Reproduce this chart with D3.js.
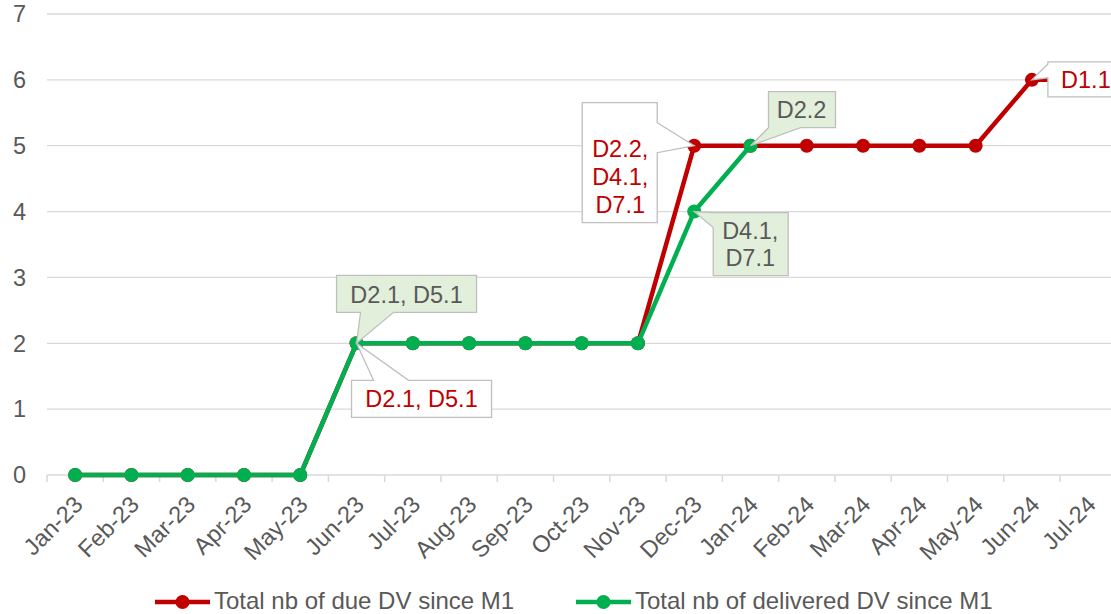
<!DOCTYPE html>
<html>
<script src="https://d3js.org/d3.v7.min.js"></script>
<style>
  body { margin: 0; background: #fff; }
  text { font-family: "Liberation Sans", Arial, sans-serif; }
</style>
<body>
<div id="chart"></div>

<script>
    // chart data
    var months = ["Jan-23", "Feb-23", "Mar-23", "Apr-23", "May-23", "Jun-23", "Jul-23", "Aug-23", "Sep-23",
                  "Oct-23", "Nov-23", "Dec-23", "Jan-24", "Feb-24", "Mar-24", "Apr-24", "May-24", "Jun-24", "Jul-24"];
    var due = [0, 0, 0, 0, 0, 2, 2, 2, 2, 2, 2, 5, 5, 5, 5, 5, 5, 6, 6];
    var delivered = [0, 0, 0, 0, 0, 2, 2, 2, 2, 2, 2, 4, 5];
    var yTicks = [0, 1, 2, 3, 4, 5, 6, 7];
    var seriesNames = ["Total nb of due DV since M1", "Total nb of delivered DV since M1"];
    var dueLabels = [
        { month: "Jun-23", lines: ["D2.1, D5.1"] },
        { month: "Dec-23", lines: ["D2.2,", "D4.1,", "D7.1"] },
        { month: "Jun-24", lines: ["D1.1"] }
    ];
    var deliveredLabels = [
        { month: "Jun-23", lines: ["D2.1, D5.1"] },
        { month: "Dec-23", lines: ["D4.1,", "D7.1"] },
        { month: "Jan-24", lines: ["D2.2"] }
    ];

    var W = 1111, H = 614;
    var red = "#c00000", green = "#00b050", grey = "#595959", gridCol = "#d9d9d9";
    var fs = 23.5;

    var svg = d3.select("#chart").append("svg")
        .attr("width", W).attr("height", H);

    var x = d3.scaleBand().domain(months).range([47, 47 + 19 * 56.28]);
    var y = d3.scaleLinear().domain([0, 7]).range([475, 14]);
    var cx = function (m) { return x(m) + x.bandwidth() / 2; };

    // gridlines
    svg.append("g").selectAll("line").data(yTicks.slice(1)).join("line")
        .attr("x1", 47).attr("x2", W + 10)
        .attr("y1", function (d) { return y(d); }).attr("y2", function (d) { return y(d); })
        .attr("stroke", gridCol).attr("stroke-width", 1.3);

    // y axis labels
    svg.append("g").selectAll("text").data(yTicks).join("text")
        .attr("x", 26).attr("y", function (d) { return y(d); })
        .attr("dy", "0.35em").attr("text-anchor", "end")
        .attr("font-size", fs).attr("fill", grey)
        .text(function (d) { return d; });

    // x axis
    var xAxis = svg.append("g");
    xAxis.append("line").attr("x1", 47).attr("x2", W + 10).attr("y1", y(0)).attr("y2", y(0))
        .attr("stroke", gridCol).attr("stroke-width", 1.5);
    xAxis.selectAll("line.tick").data(months.concat(["end"])).join("line").attr("class", "tick")
        .attr("x1", function (d, i) { return 47 + i * x.step(); })
        .attr("x2", function (d, i) { return 47 + i * x.step(); })
        .attr("y1", y(0)).attr("y2", y(0) + 7)
        .attr("stroke", gridCol).attr("stroke-width", 1.5);
    xAxis.selectAll("text").data(months).join("text")
        .attr("transform", function (d) { return "translate(" + (cx(d) + 9) + "," + 506 + ") rotate(-45)"; })
        .attr("text-anchor", "end").attr("font-size", fs).attr("fill", grey)
        .text(function (d) { return d; });

    var line = d3.line()
        .x(function (d, i) { return cx(months[i]); })
        .y(function (d) { return y(d); });

    function drawSeries(values, color) {
        svg.append("path").datum(values)
            .attr("d", line).attr("fill", "none")
            .attr("stroke", color).attr("stroke-width", 4.5).attr("stroke-linejoin", "round");
        svg.append("g").selectAll("circle").data(values).join("circle")
            .attr("cx", function (d, i) { return cx(months[i]); })
            .attr("cy", function (d) { return y(d); })
            .attr("r", 7).attr("fill", color);
    }
    drawSeries(due, red);
    drawSeries(delivered, green);

    // callout path: box + wedge on one side pointing at tip
    function calloutPath(b, side, a1, a2, tip) {
        var p = d3.path();
        var x0 = b.x, y0 = b.y, x1 = b.x + b.w, y1 = b.y + b.h;
        p.moveTo(x0, y0);
        if (side === "top") { p.lineTo(a1, y0); p.lineTo(tip[0], tip[1]); p.lineTo(a2, y0); }
        p.lineTo(x1, y0);
        if (side === "right") { p.lineTo(x1, a1); p.lineTo(tip[0], tip[1]); p.lineTo(x1, a2); }
        p.lineTo(x1, y1);
        if (side === "bottom") { p.lineTo(a2, y1); p.lineTo(tip[0], tip[1]); p.lineTo(a1, y1); }
        p.lineTo(x0, y1);
        if (side === "left") { p.lineTo(x0, a2); p.lineTo(tip[0], tip[1]); p.lineTo(x0, a1); }
        p.closePath();
        return p.toString();
    }

    // callout layout, offsets relative to the labelled point
    var dueLayout = {
        "Jun-23": { dx: -5, dy: 37, w: 140, h: 37, side: "top", a: [17, 52], tx: 65, ty: [64] },
        "Dec-23": { dx: -112, dy: -43, w: 75, h: 120, side: "right", a: [-23, 7], tx: -74, ty: [11, 39, 67] },
        "Jun-24": { dx: 16, dy: -18, w: 90, h: 35, side: "left", a: [-16, -2], tx: 54, ty: [8] }
    };
    var deliveredLayout = {
        "Jun-23": { dx: -20, dy: -68, w: 140, h: 37, side: "bottom", a: [4, 37], tx: 50, ty: [-40] },
        "Dec-23": { dx: 19, dy: 1, w: 75, h: 63, side: "left", a: [1, 16], tx: 56, ty: [27, 54] },
        "Jan-24": { dx: 18, dy: -54, w: 67, h: 36, side: "bottom", a: [18, 50], tx: 51, ty: [-28] }
    };

    function drawCallouts(labels, values, layout, fill, textColor) {
        labels.forEach(function (l) {
            var px = cx(l.month), py = y(values[months.indexOf(l.month)]);
            var c = layout[l.month];
            var b = { x: px + c.dx, y: py + c.dy, w: c.w, h: c.h };
            var horiz = c.side === "top" || c.side === "bottom";
            var base = horiz ? px : py;
            svg.append("path")
                .attr("d", calloutPath(b, c.side, base + c.a[0], base + c.a[1], [px, py]))
                .attr("fill", fill).attr("stroke", "#bfbfbf").attr("stroke-width", 1.3);
            l.lines.forEach(function (t, i) {
                svg.append("text").attr("x", px + c.tx).attr("y", py + c.ty[i])
                    .attr("text-anchor", "middle").attr("font-size", fs).attr("fill", textColor)
                    .text(t);
            });
        });
    }
    drawCallouts(dueLabels, due, dueLayout, "#ffffff", red);
    drawCallouts(deliveredLabels, delivered, deliveredLayout, "#e2efda", grey);

    // legend
    var legend = [
        { name: seriesNames[0], color: red, x: 155 },
        { name: seriesNames[1], color: green, x: 576 }
    ];
    var lg = svg.append("g").selectAll("g").data(legend).join("g")
        .attr("transform", function (d) { return "translate(" + d.x + ",602)"; });
    lg.append("line").attr("x1", 0).attr("x2", 55).attr("stroke", function (d) { return d.color; })
        .attr("stroke-width", 4.5);
    lg.append("circle").attr("cx", 27.5).attr("r", 7).attr("fill", function (d) { return d.color; });
    lg.append("text").attr("x", 59).attr("y", 6.5).attr("font-size", 24).attr("fill", grey)
        .text(function (d) { return d.name; });
</script>
</body>
</html>
